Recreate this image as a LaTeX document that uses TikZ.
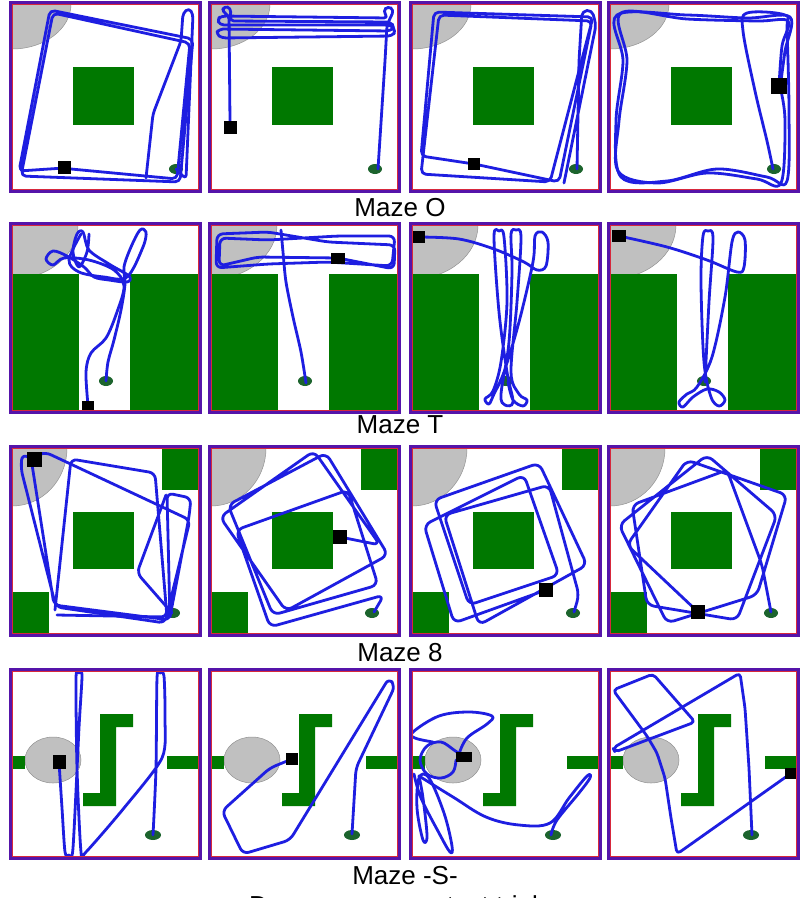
\documentclass[tikz,border=0pt]{standalone}
\usepackage{fontspec}
\setmainfont{Liberation Sans}
\usetikzlibrary{positioning}

\definecolor{trajblue}{RGB}{30,30,225}
\definecolor{mazegreen}{RGB}{0,120,0}
\definecolor{zonegray}{RGB}{192,192,192}
\definecolor{goalgreen}{RGB}{28,100,45}
\definecolor{framepurple}{RGB}{85,20,170}
\definecolor{framered}{RGB}{215,40,60}

\tikzset{
  traj/.style={draw=trajblue, line width=2.8pt, line join=round, line cap=round},
  wall/.style={fill=mazegreen},
  zone/.style={fill=zonegray, draw=gray!85, line width=0.5pt},
  goal/.style={fill=goalgreen},
  robot/.style={fill=black},
  lbl/.style={anchor=base, inner sep=0pt, font=\fontsize{26}{30}\selectfont}
}

% panel frame and the four maze backgrounds, local px coordinates
\newcommand{\panelframe}{%
  \draw[framepurple, line width=2.6pt] (1.3,1.3) rectangle (191.7,190.7);
  \draw[framered, line width=1pt] (3.2,3.2) rectangle (189.8,188.8);}
\newcommand{\panelbg}{\fill[white] (0,0) rectangle (193,192);}
\newcommand{\cornerzone}[2]{%
  \begin{scope}
    \clip (3,3) rectangle (190,189);
    \filldraw[zone] (3,3) ellipse[x radius=#1, y radius=#2];
  \end{scope}}
\newcommand{\mazeO}{%
  \panelbg \cornerzone{59}{45}
  \fill[wall] (64,66) rectangle (125,124);
  \fill[goal] (167,168) ellipse[x radius=7, y radius=5];}
\newcommand{\mazeT}{%
  \panelbg \cornerzone{66}{54}
  \fill[wall] (3,52) rectangle (70,189);
  \fill[wall] (121,52) rectangle (190,189);
  \fill[goal] (97,159) ellipse[x radius=7, y radius=5];}
\newcommand{\mazeEight}{%
  \panelbg \cornerzone{55}{58}
  \fill[wall] (153,3) rectangle (190,45);
  \fill[wall] (3,147) rectangle (40,189);
  \fill[wall] (64,67) rectangle (125,124);
  \fill[goal] (164,168) ellipse[x radius=7, y radius=5];}
\newcommand{\mazeS}{%
  \panelbg
  \filldraw[zone] (44,92) ellipse[x radius=28, y radius=23];
  \fill[wall] (3,88) rectangle (16,101);
  \fill[wall] (158,88) rectangle (190,101);
  \fill[wall] (91,46) -- (124,46) -- (124,59) -- (107,59) -- (107,138)
    -- (74,138) -- (74,125) -- (91,125) -- cycle;
  \fill[goal] (144,167) ellipse[x radius=8, y radius=5];}

\begin{document}
\begin{tikzpicture}[x=1pt, y=-1pt]
\fill[white] (0,0) rectangle (801,898);
\useasboundingbox (0,0) rectangle (801,898);

% ---- Maze O
\begin{scope}[shift={(9,1)}]
  \mazeO
  \draw[traj, rounded corners=5] (55,167) -- (10,170) -- (41,9) -- (184,38) -- (171,181) -- (12,175)
    -- (44,12) -- (181,42) -- (168,178) -- (62,168);
  \draw[traj, rounded corners=4] (137,177) -- (144,113) -- (172,40) -- (174,12) -- (180,7) -- (184,13)
    -- (177,178) -- (167,168);
  \fill[robot] (49,160) rectangle (62,173);
  \panelframe
\end{scope}
\begin{scope}[shift={(208,1)}]
  \mazeO
  \draw[traj, rounded corners=4] (22,121) -- (21,14) -- (14,11) -- (16,5) -- (23,7) -- (22,20) -- (182,21)
    -- (187,26) -- (182,30) -- (11,28) -- (8,33) -- (14,37) -- (184,35) -- (188,30) -- (183,24)
    -- (12,24) -- (9,18) -- (14,15) -- (180,17) -- (175,10) -- (180,5) -- (186,9) -- (179,24)
    -- (177,60) -- (170,168);
  \fill[robot] (16,120) rectangle (29,133);
  \panelframe
\end{scope}
\begin{scope}[shift={(409,1)}]
  \mazeO
  \draw[traj, rounded corners=5] (65,163) -- (12,155) -- (25,11) -- (184,16) -- (141,181) -- (12,173)
    -- (30,14) -- (183,20) -- (150,181) -- (70,164);
  \draw[traj, rounded corners=5] (155,182) -- (187,24) -- (183,9) -- (173,10) -- (170,60) -- (168,168);
  \fill[robot] (59,157) rectangle (71,169);
  \panelframe
\end{scope}
\begin{scope}[shift={(607,1)}]
  \mazeO
  \draw[traj] plot[smooth, tension=0.55] coordinates {(172,85) (175,45) (181,20) (150,20) (80,18)
    (14,12) (20,60) (12,120) (11,170) (50,182) (100,172) (150,178) (174,182) (178,120) (174,90)};
  \draw[traj] plot[smooth, tension=0.55] coordinates {(174,80) (178,50) (183,16) (140,17) (80,14)
    (10,14) (16,60) (9,120) (14,176) (60,180) (110,168) (160,176) (180,180) (182,110) (180,30)
    (178,14) (140,12) (136,30) (148,90) (160,140) (166,168)};
  \fill[robot] (164,77) rectangle (180,93);
  \panelframe
\end{scope}
\node[lbl] (labO) at (400,216) {Maze O};

% ---- Maze T
\begin{scope}[shift={(9,222)}]
  \mazeT
  \draw[traj] plot[smooth, tension=0.55] coordinates {(79,183) (77,150) (82,131) (97,116) (108,90)
    (115,64) (105,48) (80,38) (55,36) (44,43) (37,37) (44,29) (58,34) (75,45) (85,55) (100,58)
    (118,60) (120,54) (100,42) (80,28) (74,10) (68,12) (64,30) (70,45) (78,30) (80,12)};
  \draw[traj] plot[smooth, tension=0.55] coordinates {(97,159) (99,140) (105,118) (112,88) (116,62)
    (115,45) (122,25) (131,8) (137,10) (134,25) (118,55) (95,55) (70,50) (60,38) (72,12)};
  \fill[robot] (73,179) rectangle (85,188);
  \panelframe
\end{scope}
\begin{scope}[shift={(208,222)}]
  \mazeT
  \draw[traj] plot[smooth] coordinates {(98,161) (93,130) (85,95) (78,60) (75,30) (73,8)};
  \draw[traj, rounded corners=6] (130,36) -- (186,47) -- (187,23) -- (120,20) -- (60,10) -- (9,12)
    -- (8,46) -- (60,42) -- (120,40) -- (184,44) -- (187,14) -- (130,14) -- (60,18) -- (12,16)
    -- (11,44) -- (50,35) -- (130,36);
  \fill[robot] (123,31) rectangle (137,42);
  \panelframe
\end{scope}
\begin{scope}[shift={(409,222)}]
  \mazeT
  \draw[traj] plot[smooth, tension=0.55] coordinates {(10,15) (50,17) (85,27) (115,40) (128,48)
    (137,44) (139,20) (133,10) (126,14) (124,40) (110,100) (95,150) (85,172) (80,182) (76,177)
    (84,169) (92,140) (98,80) (95,15) (90,9) (85,15) (90,90) (98,150) (104,180) (96,183) (92,172)
    (100,120) (103,50) (102,12) (107,8) (112,15) (108,80) (102,150) (110,172) (118,178) (114,184)
    (104,178) (99,160)};
  \fill[robot] (3,9) rectangle (16,21);
  \panelframe
\end{scope}
\begin{scope}[shift={(607,222)}]
  \mazeT
  \draw[traj] plot[smooth, tension=0.55] coordinates {(12,14) (60,25) (100,38) (130,50) (137,45)
    (138,18) (131,10) (125,20) (118,75) (105,135) (90,165) (80,172) (72,180) (76,185) (86,175)
    (100,167) (112,170) (118,178) (112,184) (104,175) (97,140) (94,60) (96,14) (101,9) (106,16)
    (102,80) (98,160)};
  \fill[robot] (5,8) rectangle (19,20);
  \panelframe
\end{scope}
\node[lbl] (labT) at (400,433) {Maze T};

% ---- Maze 8
\begin{scope}[shift={(9,445)}]
  \mazeEight
  \draw[traj, rounded corners=6] (25,15) -- (13,9) -- (12,24) -- (47,162) -- (156,178) -- (181,75)
    -- (36,7) -- (22,13) -- (45,160) -- (161,175) -- (158,48) -- (182,53) -- (180,72) -- (161,172);
  \draw[traj, rounded corners=6] (46,165) -- (62,14) -- (146,28) -- (158,172) -- (48,170);
  \draw[traj, rounded corners=6] (157,50) -- (128,128) -- (163,168);
  \fill[robot] (18,7) rectangle (33,22);
  \panelframe
\end{scope}
\begin{scope}[shift={(208,445)}]
  \mazeEight
  \draw[traj, rounded corners=7] (132,92) -- (172,100) -- (106,6) -- (12,72) -- (78,166) -- (180,110)
    -- (118,8) -- (20,60) -- (65,170) -- (170,140) -- (140,45) -- (28,85) -- (62,182) -- (176,150)
    -- (166,167);
  \fill[robot] (125,85) rectangle (139,99);
  \panelframe
\end{scope}
\begin{scope}[shift={(409,445)}]
  \mazeEight
  \draw[traj, rounded corners=7] (137,145) -- (45,178) -- (15,80) -- (115,30) -- (150,130) -- (60,160)
    -- (25,55) -- (130,18) -- (178,120) -- (70,180) -- (35,70) -- (140,40) -- (170,150) -- (165,167);
  \fill[robot] (130,138) rectangle (144,152);
  \panelframe
\end{scope}
\begin{scope}[shift={(607,445)}]
  \mazeEight
  \draw[traj, rounded corners=7] (91,167) -- (20,100) -- (80,15) -- (180,50) -- (150,150) -- (60,178)
    -- (12,80) -- (100,10) -- (170,70) -- (130,175) -- (40,160) -- (25,60) -- (120,25) -- (155,120)
    -- (164,167);
  \fill[robot] (84,160) rectangle (98,174);
  \panelframe
\end{scope}
\node[lbl] (lab8) at (400,661) {Maze 8};

% ---- Maze -S-
\begin{scope}[shift={(9,668)}]
  \mazeS
  \draw[traj] plot[smooth, tension=0.45] coordinates {(50,94) (53,140) (56,184) (60,187) (64,180)
    (70,60) (73,8) (70,5) (67,10) (68,100) (72,184) (77,184) (115,140) (153,90) (156,50) (155,8)
    (151,5) (148,10) (147,100) (144,167)};
  \fill[robot] (44,87) rectangle (57,101);
  \panelframe
\end{scope}
\begin{scope}[shift={(208,668)}]
  \mazeS
  \draw[traj, rounded corners=6] (84,91) -- (62,100) -- (14,143) -- (35,186) -- (82,172) -- (181,10)
    -- (187,18) -- (148,100) -- (144,166);
  \fill[robot] (78,85) rectangle (90,97);
  \panelframe
\end{scope}
\begin{scope}[shift={(409,668)}]
  \mazeS
  \draw[traj] plot[smooth, tension=0.6] coordinates {(55,89) (45,82) (32,74) (18,78) (11,92) (18,106)
    (32,110) (44,104) (47,92)};
  \draw[traj] plot[smooth, tension=0.6] coordinates {(50,86) (58,70) (78,56) (83,48) (60,44) (30,48)
    (4,64) (6,70) (24,74)};
  \draw[traj] plot[smooth, tension=0.6] coordinates {(5,106) (12,130) (30,165) (41,184) (43,178)
    (35,145) (20,110) (10,110) (8,140) (14,172) (18,168) (14,130) (10,108)};
  \draw[traj] plot[smooth, tension=0.6] coordinates {(10,108) (44,129) (77,149) (110,157) (141,155)
    (160,130) (178,108) (181,110) (170,125) (148,152) (142,167)};
  \fill[robot] (47,84) rectangle (63,94);
  \panelframe
\end{scope}
\begin{scope}[shift={(607,668)}]
  \mazeS
  \draw[traj, rounded corners=4] (183,106) -- (70,186) -- (64,150) -- (58,110) -- (50,85) -- (40,68)
    -- (6,22) -- (46,6) -- (88,54) -- (8,84) -- (6,80) -- (133,5) -- (138,40) -- (142,100) -- (145,167);
  \fill[robot] (178,100) rectangle (189,111);
  \panelframe
\end{scope}
\node[lbl] (labS) at (405,884) {Maze -S-};
\node[lbl] (labCap) at (400,914) {Drawn are some test trials};
\end{tikzpicture}
\end{document}
